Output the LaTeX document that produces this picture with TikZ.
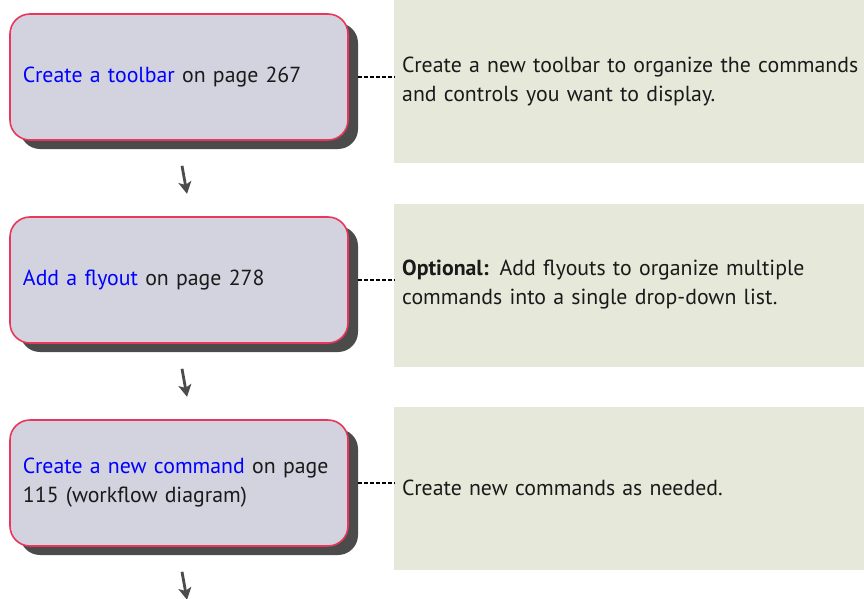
\documentclass[tikz,border=0pt]{standalone}
\usepackage{fontspec}
\setmainfont{PT Sans}
\usetikzlibrary{arrows.meta,shadows}
\definecolor{ink}{HTML}{1A1A1A}
\definecolor{linkblue}{HTML}{0000FF}
\definecolor{stepfill}{HTML}{D3D3DF}
\definecolor{stepline}{HTML}{E8375A}
\definecolor{shade}{HTML}{4B4B4B}
\definecolor{notefill}{HTML}{E6E8DA}
\newcommand{\bodyfont}{\fontsize{21.8}{29}\selectfont}
\newcommand{\xref}[1]{\textcolor{linkblue}{#1}}
\tikzset{
 every node/.append style={font=\bodyfont,text=ink},
 stepbox/.style={draw=stepline,fill=stepfill,line width=1.6pt,rounded corners=20pt,minimum width=338pt,minimum height=126pt,text width=312pt,align=left,inner xsep=13pt,
   drop shadow={shadow xshift=10pt,shadow yshift=-9pt,fill=shade,opacity=1}},
 note/.style={fill=notefill,anchor=west,minimum height=163pt,text width=462pt,align=left,inner xsep=8pt},
 tie/.style={draw=black,line width=1.1pt,dash pattern=on 4pt off 2pt,shorten <=9pt},
 next/.style={-{Stealth[length=12pt,width=13pt,inset=3pt]},draw=shade,line width=2.8pt},
}

\begin{document}
\begin{tikzpicture}[x=1pt,y=1pt]
\useasboundingbox (0,0) rectangle (864,-599);

\node[note] (toolbarnote) at (394,-81.5) {Create a new toolbar to organize the commands\\and controls you want to display.};
\node[note] (flyoutnote) at (394,-285) {\textbf{Optional:} Add flyouts to organize multiple\\commands into a single drop-down list.};
\node[note] (commandnote) at (394,-488) {Create new commands as needed.};

\node[stepbox] (toolbar) at (179,-77) {\xref{Create a toolbar} on page 267};
\node[stepbox] (flyout) at (179,-280) {\xref{Add a flyout} on page 278};
\node[stepbox] (command) at (179,-483) {\xref{Create a new command} on page\\115 (workflow diagram)};

\draw[tie] (toolbar) -- (toolbar -| toolbarnote.west);
\draw[tie] (flyout) -- (flyout -| flyoutnote.west);
\draw[tie] (command) -- (command -| commandnote.west);

\draw[next] ([xshift=3pt,yshift=-25pt]toolbar.south) -- ++(5,-28);
\draw[next] ([xshift=3pt,yshift=-25pt]flyout.south) -- ++(5,-28);
\draw[next] ([xshift=3pt,yshift=-25pt]command.south) -- ++(5,-28);

\end{tikzpicture}
\end{document}
